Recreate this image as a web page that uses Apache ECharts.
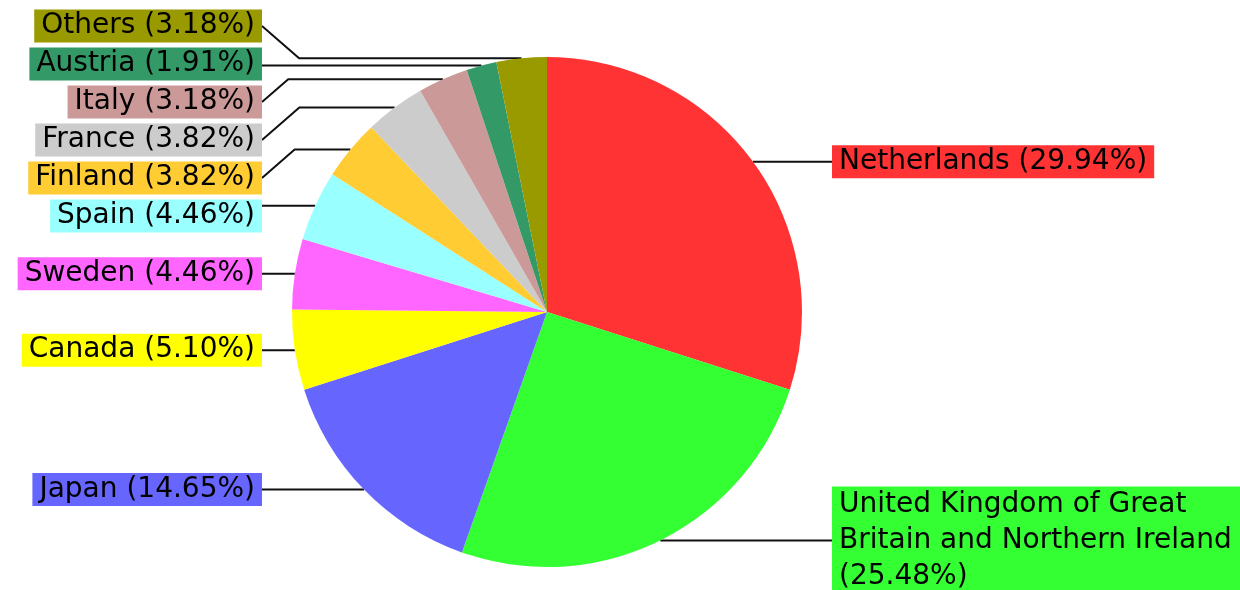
<!DOCTYPE html>
<html><head><meta charset="utf-8">
<script src="https://cdn.jsdelivr.net/npm/echarts@6/dist/echarts.min.js"></script>
<style>html,body{margin:0;padding:0;background:#fff}#c{width:1240px;height:590px}</style>
</head><body><div id="c"></div>
<script>
const categories = ['Netherlands', 'United Kingdom of Great Britain and Northern Ireland', 'Japan', 'Canada', 'Sweden', 'Spain', 'Finland', 'France', 'Italy', 'Austria', 'Others'];
const values = [47, 40, 23, 8, 7, 7, 6, 6, 5, 3, 5];
const colors = ['#ff3333', '#33ff33', '#6666ff', '#ffff00', '#ff66ff', '#99ffff', '#ffcc33', '#cccccc', '#cc9999', '#339966', '#999900'];

const CX = 547, CY = 312, R = 255;
const LABEL_GAP = 30;
const SLOT = 38, TOP = 26, BOTTOM = 565;
const total = values.reduce((a, b) => a + b, 0);
const pct = v => (v / total * 100).toFixed(2) + '%';

let acc = 0;
const mids = values.map(v => { const m = (acc + v / 2) / total * 2 * Math.PI; acc += v; return m; });
const anchorY = mids.map(a => CY - R * Math.cos(a));
const isLeft = mids.map(a => Math.sin(a) < 0);

function spread(idx) {
  const items = idx.map(i => ({ i, y0: anchorY[i] })).sort((a, b) => a.y0 - b.y0);
  const clusters = items.map(it => ({ list: [it] }));
  const place = c => {
    const n = c.list.length;
    const mean = c.list.reduce((s, it) => s + it.y0, 0) / n;
    let start = mean - (n - 1) * SLOT / 2;
    start = Math.max(TOP, Math.min(BOTTOM - (n - 1) * SLOT, start));
    c.start = start; c.end = start + (n - 1) * SLOT;
  };
  clusters.forEach(place);
  let merged = true;
  while (merged) {
    merged = false;
    for (let k = 0; k < clusters.length - 1; k++) {
      if (clusters[k].end + SLOT > clusters[k + 1].start) {
        clusters[k].list = clusters[k].list.concat(clusters[k + 1].list);
        clusters.splice(k + 1, 1);
        place(clusters[k]);
        merged = true;
        break;
      }
    }
  }
  const out = {};
  clusters.forEach(c => c.list.forEach((it, j) => { out[it.i] = c.start + j * SLOT; }));
  return out;
}
const allIdx = values.map((v, i) => i);
const labelY = Object.assign({}, spread(allIdx.filter(i => isLeft[i])), spread(allIdx.filter(i => !isLeft[i])));

const data = categories.map((name, i) => {
  const item = {
    name, value: values[i],
    itemStyle: { color: colors[i] },
    label: { backgroundColor: colors[i] }
  };
  if (i === 1) {
    item.label.width = 400;
    item.label.overflow = 'break';
    item.label.lineHeight = 36;
    item.label.formatter = p => p.name + '\n(' + pct(p.value) + ')';
  }
  return item;
});

const chart = echarts.init(document.getElementById('c'), null, { renderer: 'canvas' });
chart.setOption({
  backgroundColor: '#ffffff',
  animation: false,
  series: [{
    type: 'pie',
    center: [CX, CY],
    radius: R,
    startAngle: 90,
    clockwise: true,
    avoidLabelOverlap: false,
    data,
    itemStyle: { borderWidth: 0 },
    emphasis: { disabled: true },
    label: {
      show: true,
      position: 'outer',
      formatter: p => p.name + ' (' + pct(p.value) + ')',
      fontFamily: 'DejaVu Sans',
      fontSize: 28,
      lineHeight: 33,
      color: '#000',
      padding: [0, 7]
    },
    labelLine: {
      show: true, length: 5, length2: 5, smooth: false,
      lineStyle: { color: '#111', width: 2 }
    },
    labelLayout: function (p) {
      const i = p.dataIndex;
      const left = isLeft[i];
      const ly = labelY[i];
      const lx = left ? CX - R - LABEL_GAP : CX + R + LABEL_GAP;
      const a = (p.labelLinePoints && p.labelLinePoints[0]) || [CX + R * Math.sin(mids[i]), anchorY[i]];
      const dy = Math.abs(a[1] - ly);
      let pts;
      if (dy < 15) {
        pts = [[a[0], a[1]], [(a[0] + lx) / 2, a[1]], [lx, a[1]]];
      } else {
        const bx = left ? lx + dy * 1.15 : lx - dy * 1.15;
        pts = [[a[0], a[1]], [bx, a[1]], [lx, ly]];
      }
      return { x: lx, y: ly, align: left ? 'right' : 'left', verticalAlign: 'middle', labelLinePoints: pts };
    }
  }]
});
</script>
</body></html>
